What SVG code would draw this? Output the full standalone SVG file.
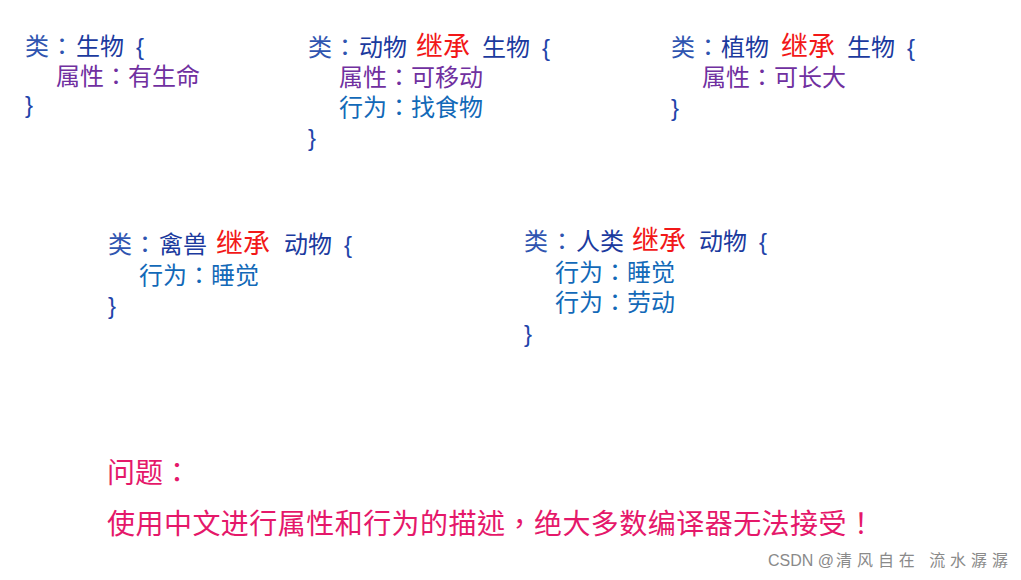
<svg xmlns="http://www.w3.org/2000/svg" width="1021" height="580" viewBox="0 0 1021 580">
<style>
text{font-family:"Liberation Sans","Noto Sans CJK SC",sans-serif;font-size:24px}
.c{font-family:"Liberation Sans","Noto Sans CJK TC","Noto Sans CJK SC",sans-serif}
.k{fill:#2f55b0}
.n{fill:#1b3a9e}
.b{fill:#2244aa}
.r{fill:#f21818;font-size:27px}
.a{fill:#7030a0}
.v{fill:#1269b8}
.q{fill:#e5186a;font-size:28px;font-family:"Liberation Sans","Noto Sans CJK TC","Noto Sans CJK SC",sans-serif}
.w{fill:#8a8a8a;font-size:16px}
</style>
<rect width="1021" height="580" fill="#ffffff"/>
<g id="class-organism">
<text class="k" x="25" y="55">类</text>
<text class="k c" x="50" y="55">：</text>
<text class="n" x="76" y="55">生物</text>
<text class="b" x="136" y="55">{</text>
<text class="a" x="56" y="85">属性</text>
<text class="a c" x="104" y="85">：</text>
<text class="a" x="128" y="85">有生命</text>
<text class="b" x="25" y="113">}</text>
</g>
<g id="class-animal">
<text class="k" x="308" y="56">类</text>
<text class="k c" x="333" y="56">：</text>
<text class="n" x="359" y="56">动物</text>
<text class="r" x="416" y="56">继承</text>
<text class="n" x="482" y="56">生物</text>
<text class="b" x="542" y="56">{</text>
<text class="a" x="339" y="86">属性</text>
<text class="a c" x="387" y="86">：</text>
<text class="a" x="411" y="86">可移动</text>
<text class="v" x="339" y="116">行为</text>
<text class="v c" x="387" y="116">：</text>
<text class="v" x="411" y="116">找食物</text>
<text class="b" x="308" y="146">}</text>
</g>
<g id="class-plant">
<text class="k" x="671" y="56">类</text>
<text class="k c" x="696" y="56">：</text>
<text class="n" x="721" y="56">植物</text>
<text class="r" x="781" y="56">继承</text>
<text class="n" x="847" y="56">生物</text>
<text class="b" x="907" y="56">{</text>
<text class="a" x="702" y="86">属性</text>
<text class="a c" x="750" y="86">：</text>
<text class="a" x="774" y="86">可长大</text>
<text class="b" x="671" y="116">}</text>
</g>
<g id="class-beast">
<text class="k" x="108" y="253">类</text>
<text class="k c" x="133" y="253">：</text>
<text class="n" x="159" y="253">禽兽</text>
<text class="r" x="216" y="253">继承</text>
<text class="n" x="284" y="253">动物</text>
<text class="b" x="344" y="253">{</text>
<text class="v" x="139" y="284">行为</text>
<text class="v c" x="187" y="284">：</text>
<text class="v" x="211" y="284">睡觉</text>
<text class="b" x="108" y="314">}</text>
</g>
<g id="class-human">
<text class="k" x="524" y="250">类</text>
<text class="k c" x="550" y="250">：</text>
<text class="n" x="576" y="250">人类</text>
<text class="r" x="632" y="250">继承</text>
<text class="n" x="699" y="250">动物</text>
<text class="b" x="759" y="250">{</text>
<text class="v" x="555" y="281">行为</text>
<text class="v c" x="603" y="281">：</text>
<text class="v" x="627" y="281">睡觉</text>
<text class="v" x="555" y="311">行为</text>
<text class="v c" x="603" y="311">：</text>
<text class="v" x="627" y="311">劳动</text>
<text class="b" x="524" y="342">}</text>
</g>
<g id="question">
<text class="q" x="107" y="483">问题：</text>
<text class="q" x="107" y="534" textLength="768" lengthAdjust="spacing">使用中文进行属性和行为的描述，绝大多数编译器无法接受！</text>
</g>
<g id="watermark">
<text class="w" x="768" y="566">CSDN @</text>
<text class="w" x="836" y="566" textLength="172" lengthAdjust="spacing">清风自在 流水潺潺</text>
</g>
</svg>
